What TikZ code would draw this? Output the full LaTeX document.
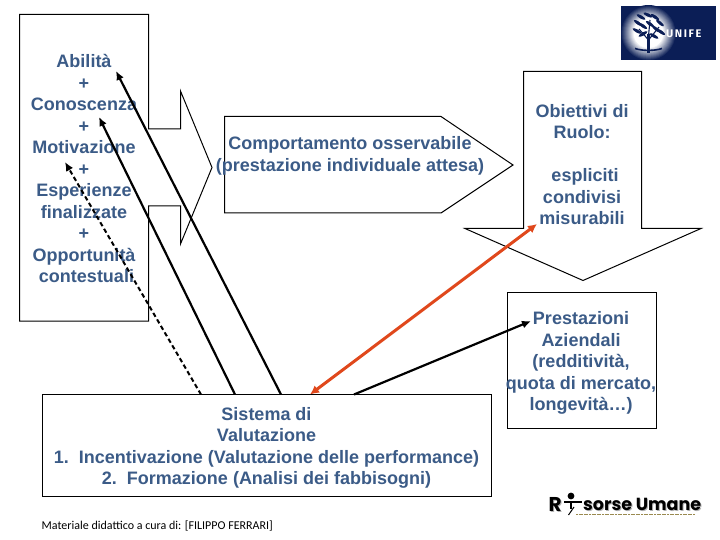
\documentclass[tikz,border=0pt]{standalone}
\usepackage{fontspec}
\setmainfont{Liberation Sans}
\newfontfamily\notefont{Carlito}
\newfontfamily\logofont{Fira Sans}
\newfontfamily\rufont{Poppins}
\usetikzlibrary{arrows.meta}
\definecolor{txtblue}{HTML}{3B5B87}
\definecolor{redor}{HTML}{E0481C}
\definecolor{navy}{HTML}{0B1E56}
\definecolor{tansub}{HTML}{9A8A50}
\tikzset{
  outline/.style={draw=black,fill=white,line width=1pt,line join=miter},
  label/.style={text=txtblue,align=center,inner sep=0pt,font=\bfseries\fontsize{18}{21.5}\selectfont},
  conn/.style={draw=black,line width=2.2pt,-{Latex[length=9pt,width=8pt]}},
  dconn/.style={conn,line width=2pt,dash pattern=on 4.5pt off 3pt},
  oconn/.style={draw=redor,line width=3pt,{Latex[length=9pt,width=9pt]}-{Latex[length=9pt,width=9pt]}},
  leaf/.style={fill=navy,draw=none},
  logotxt/.style={anchor=west,inner sep=0pt,font=\rufont\bfseries\fontsize{17.5}{22}\selectfont},
  logor/.style={anchor=west,inner sep=0pt,font=\rufont\bfseries\fontsize{20}{22}\selectfont},
}
\begin{document}
\begin{tikzpicture}[x=1pt,y=-1pt]
\useasboundingbox (0,0) rectangle (720,540);
% shapes
\path[outline] (19.5,14.5) -- (148.5,14.5) -- (148.5,129) -- (180.5,129) -- (180.5,91) -- (212,167.5) -- (180.5,244) -- (180.5,206) -- (148.5,206) -- (148.5,321) -- (19.5,321) -- cycle;
\path[outline] (224.5,116.5) -- (441,116.5) -- (513,165) -- (441,213) -- (224.5,213) -- cycle;
\path[outline] (523.5,71.5) -- (641.5,71.5) -- (641.5,228.5) -- (701,228.5) -- (583,280.5) -- (465,228.5) -- (523.5,228.5) -- cycle;
\node[outline,minimum width=148.5pt,minimum height=136pt,inner sep=0pt] (prest) at (582,360) {};
\node[outline,minimum width=449pt,minimum height=102pt,inner sep=0pt] (sist) at (266.5,445.5) {};
% labels
\node[label] (abil) at (84,168.5) {Abilità\\+\\Conoscenza\\+\\Motivazione\\+\\Esperienze\hspace*{9pt}\\finalizzate\\+\\Opportunità\\\hspace*{5pt}contestuali};
\node[label] (comp) at (350,156) {Comportamento osservabile\\(prestazione individuale attesa)};
\node[label] (obie) at (582,164.5) {Obiettivi di\\Ruolo:\\[21.5pt]\hspace*{6pt}espliciti\\condivisi\\misurabili};
\node[label] (ptxt) at (581,363) {Prestazioni\\Aziendali\\(redditività,\\quota di mercato,\\longevità…)};
\node[label] (stxt) at (266.5,448) {Sistema di\\Valutazione\\1.\hspace{10pt}Incentivazione (Valutazione delle performance)\\2.\hspace{10pt}Formazione (Analisi dei fabbisogni)};
\node[anchor=west,inner sep=0pt,text=black,font=\notefont\fontsize{12}{14}\selectfont] (note) at (41.5,526) {Materiale didattico a cura di: [FILIPPO FERRARI]};
% connector ends
\coordinate (s1) at (281,394.5);
\coordinate (s2) at (235,394.5);
\coordinate (s3) at (201,394.5);
\coordinate (s4) at (354,394.5);
\coordinate (s5) at (310,394.5);
\coordinate (t1) at (116,71);
\coordinate (t2) at (99,117);
\coordinate (t3) at (65,162);
\coordinate (t4) at (531,321);
\coordinate (t5) at (537,224);
\draw[conn] (s1) -- (t1);
\draw[conn] (s2) -- (t2);
\draw[dconn] (s3) -- (t3);
\draw[conn] (s4) -- (t4);
\draw[oconn] (s5) -- (t5);
% UNIFE logo
\fill[navy] (621,6) rectangle (715.5,60);
\begin{scope}
\clip (621,6) rectangle (715.5,60);
\foreach \s in {0,1,...,13}{
  \pgfmathsetmacro{\rr}{28-\s}
  \pgfmathsetmacro{\pp}{100-\s*100/13}
  \fill[navy!\pp!white] (648.5,33) circle (\rr);
}
\draw[navy,line width=2.2pt] (648.5,53) -- (648.5,34);
\draw[navy,line width=1.6pt] (635,48.5) .. controls (642,51) and (655,51) .. (662,48.5);
\draw[navy,line width=1.1pt] (648.5,40) -- (639,29);
\draw[navy,line width=1.1pt] (648.5,40) -- (659,27);
\draw[navy,line width=1.1pt] (648.5,36) -- (650,20);
\foreach \a/\b/\r in {638/23/-35,641/17/-30,648/15/-25,655/17/-35,660/23/-40,637/31/-30,643/26/-35,650/24/-35,656/29/-40,661/32/-35,643/34/30,654/36/-30}{
  \fill[leaf,rotate around={\r:(\a,\b)}] (\a,\b) ellipse (5 and 1.6);
}
\end{scope}
\node[anchor=west,inner sep=0pt,text=white,font=\logofont\bfseries\fontsize{11}{12}\selectfont] (unife) at (666,33.5) {U\hspace{1.6pt}N\hspace{1.6pt}I\hspace{1.6pt}F\hspace{1.6pt}E};
% Risorse Umane logo
\node[logor,text=black!30] (rs1) at (549.5,505.5) {R};
\node[logor,text=black] (r1) at (548.5,504.5) {R};
\node[logotxt,text=black!30] (rs2) at (584,505.5) {sorse Umane};
\node[logotxt,text=black] (r2) at (583,504.5) {sorse Umane};
\fill[black] (571,496) circle (3.4);
\draw[black,line width=2.4pt] (564,502) -- (582,502);
\draw[black,line width=2.6pt] (571,501) -- (571,509);
\draw[black,line width=1pt] (574,507) -- (568.5,515);
\draw[tansub,line width=1pt,dash pattern=on 2pt off 0.6pt] (576,514.5) -- (695,514.5);
\end{tikzpicture}
\end{document}
